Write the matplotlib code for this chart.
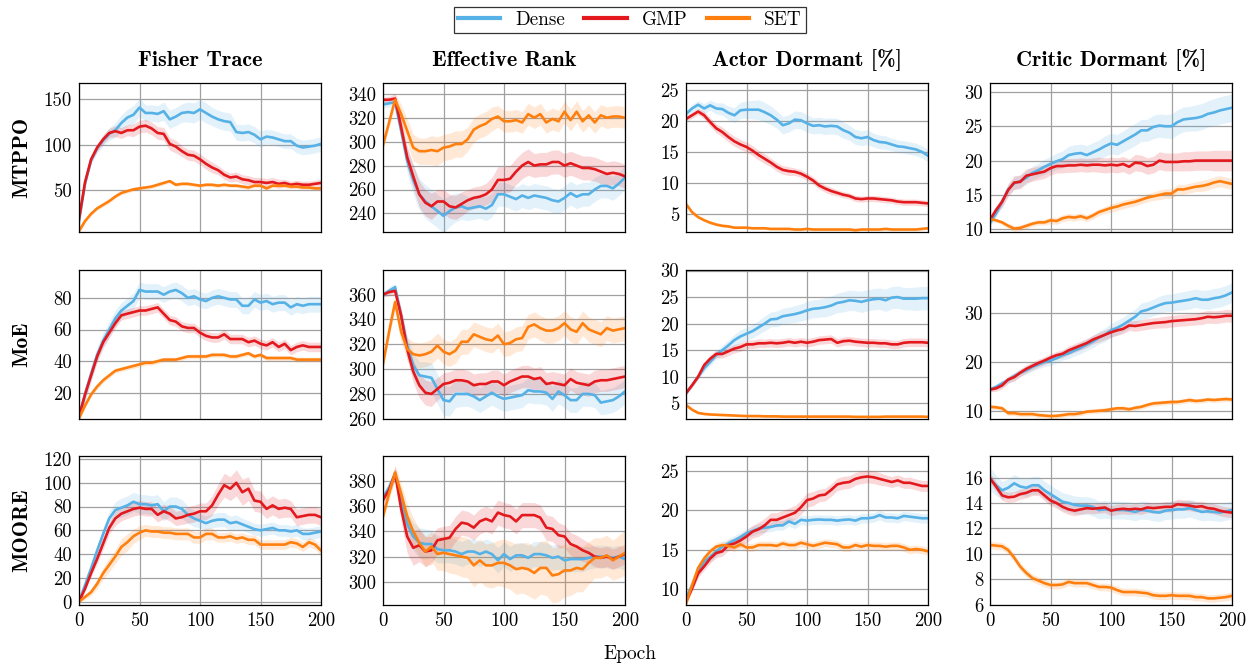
import numpy as np
import matplotlib
matplotlib.use("Agg")
import matplotlib.pyplot as plt
from matplotlib.lines import Line2D

plt.rcParams['font.family'] = ['cmr10', 'DejaVu Serif']

epochs = np.arange(0, 201, 5)
methods = ["Dense", "GMP", "SET"]
colors = ["#56B1E6", "#E3191E", "#FF7F0E"]
row_names = ["MTPPO", "MoE", "MOORE"]
col_names = ["Fisher Trace", "Effective Rank", "Actor Dormant [%]", "Critic Dormant [%]"]

# ---------------- MTPPO ----------------
fi_mtppo_dense = [16, 57, 83, 96, 105, 112, 116, 124, 130, 133, 141, 135, 135, 134, 137, 128, 131, 135, 136, 135,
                  139, 135, 131, 128, 126, 125, 114, 113, 114, 111, 106, 109, 108, 106, 104, 104, 99, 97, 98, 99, 101]
fi_mtppo_gmp = [18, 59, 84, 97, 106, 113, 115, 113, 116, 116, 120, 121, 118, 113, 112, 101, 98, 93, 89, 88,
                84, 79, 75, 72, 67, 64, 65, 62, 61, 59, 59, 58, 59, 57, 58, 56, 57, 56, 56, 57, 58]
fi_mtppo_set = [5, 16, 24, 30, 34, 38, 43, 47, 49, 51, 52, 53, 54, 56, 58, 60, 56, 57, 57, 56,
                55, 56, 56, 55, 56, 55, 55, 54, 53, 55, 55, 52, 55, 55, 55, 54, 54, 53, 53, 52, 52]
fi_mtppo_dense_sd = [1, 3, 4, 5, 6, 7, 8, 9, 9, 10, 10, 9, 9, 9, 10, 10, 10, 10, 11, 11,
                     11, 11, 10, 10, 10, 10, 9, 9, 9, 9, 9, 8, 8, 8, 8, 8, 8, 8, 8, 8, 8]
fi_mtppo_gmp_sd = [1, 3, 4, 4, 5, 5, 6, 6, 6, 7, 7, 7, 7, 7, 7, 7, 7, 6, 6, 6,
                   6, 6, 6, 5, 5, 5, 5, 5, 5, 5, 5, 5, 5, 5, 4, 4, 4, 4, 4, 4, 4]
fi_mtppo_set_sd = 2

er_mtppo_dense = [331, 332, 333, 309, 284, 268, 256, 250, 246, 242, 238, 242, 245, 246, 244, 245, 246, 244, 247, 256,
                  256, 254, 252, 255, 253, 255, 254, 253, 251, 250, 253, 257, 254, 256, 256, 260, 263, 263, 261, 265, 270]
er_mtppo_gmp = [335, 335, 336, 312, 287, 271, 256, 249, 246, 250, 250, 246, 245, 248, 251, 253, 254, 256, 260, 268,
                268, 269, 275, 280, 283, 280, 281, 281, 283, 283, 280, 282, 280, 278, 278, 277, 275, 273, 274, 273, 271]
er_mtppo_set = [297, 316, 335, 323, 309, 295, 292, 292, 293, 292, 295, 296, 298, 298, 302, 310, 313, 315, 319, 321,
                317, 317, 318, 316, 323, 320, 323, 316, 319, 317, 325, 318, 325, 317, 322, 316, 322, 320, 321, 321, 320]
er_mtppo_dense_sd = [3, 3, 4, 8, 10, 12, 13, 14, 14, 14, 14, 13, 12, 11, 10, 10, 10, 10, 10, 10,
                     10, 10, 10, 10, 10, 10, 10, 10, 10, 10, 10, 10, 10, 10, 10, 10, 10, 10, 10, 10, 10]
er_mtppo_gmp_sd = [2, 3, 4, 7, 9, 10, 11, 11, 11, 10, 10, 10, 10, 10, 9, 9, 9, 9, 10, 11,
                   11, 11, 11, 11, 11, 10, 10, 10, 10, 10, 10, 10, 10, 10, 10, 10, 10, 10, 10, 10, 10]
er_mtppo_set_sd = [3, 4, 5, 8, 10, 11, 11, 11, 12, 12, 11, 11, 11, 11, 10, 10, 10, 10, 10, 9,
                   9, 9, 9, 9, 9, 9, 9, 9, 9, 9, 9, 9, 9, 9, 9, 9, 9, 9, 9, 9, 9]

ad_mtppo_dense = [21.1, 22.0, 22.6, 22.0, 22.5, 22.0, 21.9, 21.3, 20.9, 21.7, 21.8, 21.8, 21.8, 21.4, 20.9, 20.2, 19.3,
                  19.6, 20.2, 20.1, 19.6, 19.2, 19.3, 19.1, 19.2, 19.1, 18.5, 18.1, 17.4, 17.2, 17.4, 16.9, 16.6, 16.5,
                  16.2, 15.9, 15.8, 15.6, 15.4, 15.0, 14.4]
ad_mtppo_gmp = [20.3, 20.9, 21.5, 20.9, 19.8, 18.8, 18.2, 17.4, 16.7, 16.2, 15.8, 15.2, 14.5, 13.9, 13.3, 12.6, 12.1,
                11.9, 11.8, 11.5, 11.0, 10.4, 9.6, 9.1, 8.7, 8.4, 8.1, 7.9, 7.5, 7.4, 7.5, 7.5, 7.4, 7.3, 7.2, 7.0,
                6.9, 6.9, 6.9, 6.8, 6.7]
ad_mtppo_set = [6.6, 5.3, 4.5, 4.0, 3.6, 3.3, 3.1, 3.0, 2.8, 2.8, 2.8, 2.7, 2.7, 2.7, 2.6, 2.6, 2.6, 2.6, 2.5, 2.5,
                2.6, 2.5, 2.5, 2.5, 2.5, 2.5, 2.5, 2.5, 2.4, 2.5, 2.5, 2.5, 2.5, 2.6, 2.5, 2.5, 2.5, 2.5, 2.5, 2.6, 2.7]
ad_mtppo_dense_sd = [0.5, 0.6, 0.7, 0.8, 0.8, 0.9, 1.0, 1.1, 1.2, 1.3, 1.4, 1.5, 1.6, 1.6, 1.5, 1.4, 1.4, 1.4, 1.4,
                     1.4, 1.4, 1.3, 1.3, 1.3, 1.3, 1.3, 1.3, 1.2, 1.2, 1.2, 1.2, 1.1, 1.1, 1.1, 1.0, 1.0, 1.0, 1.0,
                     1.0, 1.0, 1.0]
ad_mtppo_gmp_sd = [0.4, 0.5, 0.5, 0.6, 0.7, 0.7, 0.8, 0.8, 0.8, 0.8, 0.8, 0.8, 0.8, 0.8, 0.7, 0.7, 0.7, 0.7, 0.6,
                   0.6, 0.6, 0.6, 0.6, 0.6, 0.6, 0.5, 0.5, 0.5, 0.5, 0.5, 0.5, 0.5, 0.5, 0.5, 0.5, 0.5, 0.5, 0.5,
                   0.5, 0.5, 0.5]
ad_mtppo_set_sd = 0.2

cd_mtppo_dense = [10.9, 12.3, 14.0, 15.8, 16.7, 17.0, 17.5, 18.2, 18.6, 19.1, 19.5, 19.9, 20.2, 20.8, 21.0, 21.1, 20.8,
                  21.2, 21.6, 22.1, 22.5, 22.3, 22.8, 23.3, 23.8, 24.4, 24.4, 24.9, 25.1, 25.0, 25.0, 25.6, 26.0,
                  26.1, 26.2, 26.4, 26.8, 27.0, 27.3, 27.5, 27.7]
cd_mtppo_gmp = [11.4, 12.8, 14.0, 15.7, 16.8, 16.9, 17.8, 18.0, 18.2, 18.4, 18.9, 19.2, 19.2, 19.3, 19.3, 19.4, 19.3,
                19.4, 19.4, 19.3, 19.4, 19.3, 19.5, 19.1, 19.7, 19.6, 19.2, 19.4, 20.0, 19.8, 19.8, 19.8, 19.9, 19.9,
                20.0, 20.0, 20.0, 20.0, 20.0, 20.0, 20.0]
cd_mtppo_set = [11.5, 11.3, 11.0, 10.5, 10.1, 10.2, 10.5, 10.8, 11.0, 11.0, 11.3, 11.2, 11.6, 11.8, 11.7, 11.9, 11.6,
                12.0, 12.5, 12.8, 13.1, 13.3, 13.6, 13.8, 14.0, 14.3, 14.6, 14.8, 15.0, 15.2, 15.2, 15.8, 15.8, 16.0,
                16.2, 16.3, 16.5, 16.8, 17.0, 16.8, 16.6]
cd_mtppo_dense_sd = [0.5, 0.6, 0.7, 0.8, 0.9, 0.9, 1.0, 1.0, 1.0, 1.1, 1.1, 1.2, 1.2, 1.3, 1.3, 1.3, 1.4, 1.4, 1.4,
                     1.5, 1.5, 1.5, 1.5, 1.6, 1.6, 1.6, 1.6, 1.7, 1.7, 1.7, 1.8, 1.8, 1.8, 1.8, 1.9, 1.9, 1.9, 2.0,
                     2.0, 2.0, 2.0]
cd_mtppo_gmp_sd = [0.4, 0.6, 0.8, 0.9, 1.0, 1.0, 1.0, 1.0, 1.0, 1.0, 1.0, 1.0, 1.0, 1.0, 1.0, 1.0, 1.0, 1.0, 1.1,
                   1.1, 1.1, 1.1, 1.1, 1.1, 1.2, 1.2, 1.2, 1.2, 1.3, 1.3, 1.3, 1.3, 1.4, 1.4, 1.4, 1.4, 1.4, 1.5,
                   1.5, 1.5, 1.5]
cd_mtppo_set_sd = [0.3, 0.3, 0.3, 0.4, 0.4, 0.4, 0.4, 0.4, 0.4, 0.4, 0.5, 0.5, 0.5, 0.5, 0.5, 0.5, 0.5, 0.5, 0.5,
                   0.5, 0.6, 0.6, 0.6, 0.6, 0.6, 0.6, 0.6, 0.6, 0.7, 0.7, 0.7, 0.7, 0.7, 0.7, 0.7, 0.8, 0.8, 0.8,
                   0.8, 0.8, 0.8]

# ---------------- MoE ----------------
fi_moe_dense = [5, 19, 32, 44, 53, 60, 67, 72, 75, 78, 85, 84, 84, 84, 82, 84, 85, 83, 80, 81,
                79, 78, 80, 81, 80, 79, 79, 75, 75, 79, 77, 78, 76, 77, 77, 74, 76, 75, 76, 76, 76]
fi_moe_gmp = [5, 19, 31, 43, 52, 58, 64, 69, 70, 71, 72, 72, 73, 74, 70, 66, 65, 62, 61, 61,
              58, 56, 55, 55, 57, 54, 54, 54, 52, 53, 51, 50, 52, 49, 51, 47, 49, 50, 49, 49, 49]
fi_moe_set = [4, 12, 19, 24, 28, 31, 34, 35, 36, 37, 38, 39, 39, 40, 41, 41, 41, 42, 43, 43,
              43, 43, 44, 44, 44, 43, 43, 44, 45, 43, 44, 42, 42, 42, 42, 42, 41, 41, 41, 41, 41]
fi_moe_dense_sd = 5
fi_moe_gmp_sd = 3
fi_moe_set_sd = 1.5

er_moe_dense = [360, 363, 366, 343, 319, 303, 295, 294, 293, 284, 275, 274, 280, 280, 280, 278, 275, 278, 281, 278,
                276, 277, 278, 279, 283, 282, 282, 281, 276, 282, 279, 275, 275, 280, 280, 279, 273, 274, 275, 278, 282]
er_moe_gmp = [360, 362, 363, 343, 316, 298, 287, 281, 280, 284, 288, 289, 291, 291, 290, 287, 288, 288, 290, 290,
              287, 290, 292, 294, 294, 292, 293, 288, 289, 288, 287, 292, 289, 288, 287, 290, 291, 291, 292, 293, 294]
er_moe_set = [304, 330, 354, 330, 316, 312, 311, 312, 314, 319, 314, 312, 315, 322, 322, 328, 326, 324, 323, 327,
              320, 321, 324, 325, 334, 336, 333, 331, 331, 333, 337, 332, 330, 337, 332, 330, 328, 333, 331, 332, 333]
er_moe_dense_sd = [2, 3, 3, 6, 8, 10, 11, 12, 12, 12, 12, 12, 11, 10, 10, 10, 10, 10, 10, 10,
                   10, 10, 10, 10, 10, 10, 10, 10, 10, 10, 10, 10, 10, 10, 10, 10, 10, 10, 10, 10, 10]
er_moe_gmp_sd = [2, 3, 3, 6, 8, 9, 10, 10, 10, 9, 9, 9, 9, 9, 9, 9, 9, 9, 9, 9,
                 9, 9, 9, 9, 9, 9, 9, 9, 9, 9, 9, 9, 9, 9, 9, 9, 9, 9, 9, 9, 9]
er_moe_set_sd = [2, 5, 6, 8, 9, 10, 10, 10, 10, 10, 10, 10, 10, 10, 10, 10, 10, 10, 10, 10,
                 10, 10, 10, 10, 10, 10, 10, 10, 10, 10, 10, 10, 10, 10, 10, 10, 10, 10, 10, 10, 10]

ad_moe_dense = [6.9, 8.4, 10.0, 11.6, 12.8, 14.1, 15.0, 15.9, 16.9, 17.6, 18.1, 18.6, 19.3, 20.0, 20.8, 20.9, 21.4,
                21.6, 21.8, 22.1, 22.5, 22.8, 22.9, 23.1, 23.4, 23.9, 24.1, 24.4, 24.3, 24.1, 24.4, 24.6, 24.7, 24.4,
                24.9, 25.0, 24.7, 24.7, 24.7, 24.8, 24.8]
ad_moe_gmp = [6.9, 8.4, 10.0, 12.2, 13.4, 14.3, 14.3, 14.8, 15.3, 15.6, 16.1, 16.1, 16.3, 16.3, 16.4, 16.3, 16.4,
              16.6, 16.4, 16.6, 16.4, 16.6, 16.9, 17.0, 17.1, 16.4, 16.7, 16.8, 16.6, 16.5, 16.4, 16.4, 16.3, 16.3,
              16.1, 16.1, 16.4, 16.5, 16.5, 16.5, 16.4]
ad_moe_set = [4.7, 3.8, 3.2, 3.0, 2.9, 2.85, 2.8, 2.75, 2.7, 2.65, 2.6, 2.6, 2.6, 2.55, 2.55, 2.55, 2.5, 2.5, 2.5,
              2.5, 2.5, 2.5, 2.5, 2.5, 2.5, 2.5, 2.5, 2.5, 2.45, 2.45, 2.45, 2.45, 2.45, 2.5, 2.5, 2.5, 2.5, 2.5,
              2.5, 2.5, 2.45]
ad_moe_dense_sd = [0.3, 0.4, 0.5, 0.6, 0.7, 0.8, 0.9, 1.0, 1.1, 1.2, 1.2, 1.3, 1.3, 1.4, 1.4, 1.5, 1.5, 1.5, 1.6,
                   1.6, 1.7, 1.7, 1.7, 1.8, 1.8, 1.8, 1.9, 1.9, 1.9, 2.0, 2.0, 2.0, 2.0, 2.1, 2.1, 2.1, 2.1, 2.1,
                   2.2, 2.2, 2.2]
ad_moe_gmp_sd = [0.3, 0.4, 0.5, 0.6, 0.7, 0.7, 0.8, 0.8, 0.8, 0.8, 0.8, 0.8, 0.8, 0.8, 0.8, 0.8, 0.8, 0.8, 0.8,
                 0.8, 0.8, 0.8, 0.8, 0.8, 0.8, 0.8, 0.8, 0.8, 0.8, 0.8, 0.8, 0.8, 0.8, 0.8, 0.8, 0.8, 0.8, 0.8,
                 0.8, 0.8, 0.8]
ad_moe_set_sd = 0.15

cd_moe_dense = [14.35, 14.9, 15.6, 16.3, 17.1, 17.8, 18.3, 19.0, 19.5, 20.0, 20.3, 20.8, 21.4, 21.8, 22.4, 22.9,
                23.6, 24.2, 25.0, 25.6, 26.5, 27.0, 27.7, 28.5, 29.3, 30.4, 30.7, 31.2, 31.7, 32.1, 32.2, 32.4,
                32.6, 32.8, 33.1, 32.8, 32.8, 33.1, 33.3, 33.7, 34.3]
cd_moe_gmp = [14.35, 14.6, 15.2, 16.4, 16.9, 17.8, 18.6, 19.2, 19.8, 20.3, 20.9, 21.4, 21.7, 22.4, 22.9, 23.4, 23.9,
              24.6, 25.1, 25.6, 26.1, 26.5, 26.8, 27.5, 27.4, 27.6, 27.8, 28.0, 28.1, 28.2, 28.4, 28.5, 28.6, 28.7,
              28.8, 29.0, 29.3, 29.2, 29.3, 29.5, 29.5]
cd_moe_set = [10.8, 10.7, 10.5, 9.5, 9.5, 9.3, 9.3, 9.3, 9.1, 9.0, 8.9, 8.95, 9.1, 9.3, 9.3, 9.5, 9.8, 9.9, 10.0,
              10.1, 10.3, 10.5, 10.5, 10.3, 10.6, 10.8, 11.2, 11.5, 11.6, 11.7, 11.8, 11.8, 12.0, 12.2, 12.0, 12.1,
              12.3, 12.2, 12.3, 12.4, 12.3]
cd_moe_dense_sd = [0.5, 0.6, 0.7, 0.7, 0.8, 0.8, 0.8, 0.9, 0.9, 0.9, 1.0, 1.0, 1.0, 1.1, 1.1, 1.2, 1.2, 1.3, 1.3,
                   1.4, 1.4, 1.5, 1.5, 1.6, 1.6, 1.7, 1.7, 1.7, 1.8, 1.8, 1.8, 1.8, 1.9, 1.9, 1.9, 1.9, 2.0, 2.0,
                   2.0, 2.0, 2.0]
cd_moe_gmp_sd = [0.5, 0.6, 0.7, 0.7, 0.8, 0.8, 0.8, 0.8, 0.8, 0.8, 0.8, 0.8, 0.8, 0.9, 0.9, 0.9, 0.9, 0.9, 1.0,
                 1.0, 1.0, 1.0, 1.0, 1.0, 1.1, 1.1, 1.1, 1.1, 1.1, 1.2, 1.2, 1.2, 1.2, 1.2, 1.2, 1.3, 1.3, 1.3,
                 1.3, 1.3, 1.3]
cd_moe_set_sd = 0.5

# ---------------- MOORE ----------------
fi_moore_dense = [0, 14, 28, 43, 57, 70, 77, 79, 81, 84, 82, 82, 81, 82, 76, 80, 80, 78, 73, 70,
                  68, 66, 68, 69, 69, 66, 67, 65, 63, 61, 60, 61, 62, 60, 60, 59, 60, 57, 57, 58, 59]
fi_moore_gmp = [0, 11, 24, 36, 49, 62, 70, 74, 76, 78, 79, 78, 78, 73, 76, 74, 70, 71, 73, 74,
                76, 76, 81, 90, 98, 95, 100, 92, 95, 85, 84, 78, 81, 78, 79, 78, 71, 72, 73, 73, 71]
fi_moore_set = [0, 4, 8, 15, 24, 31, 38, 46, 50, 55, 58, 60, 59, 59, 58, 58, 57, 57, 57, 54,
                54, 57, 57, 54, 54, 55, 53, 54, 52, 52, 48, 48, 48, 48, 48, 50, 49, 46, 50, 48, 43]
fi_moore_dense_sd = [0.5, 2, 3, 4, 5, 6, 7, 8, 8, 8, 8, 8, 8, 8, 8, 8, 8, 8, 7, 7,
                     6, 6, 6, 6, 6, 6, 6, 5, 5, 5, 5, 5, 5, 5, 5, 5, 5, 5, 5, 5, 5]
fi_moore_gmp_sd = [0.5, 2, 3, 4, 5, 5, 6, 6, 6, 6, 6, 6, 6, 6, 6, 6, 6, 6, 7, 7,
                   7, 7, 8, 9, 10, 10, 11, 11, 10, 9, 9, 8, 8, 8, 8, 7, 7, 7, 7, 7, 7]
fi_moore_set_sd = [0.5, 2, 3, 4, 5, 6, 6, 7, 7, 6, 6, 5, 5, 5, 5, 5, 5, 5, 5, 5,
                   5, 5, 5, 4, 4, 4, 4, 4, 4, 4, 4, 4, 4, 4, 4, 4, 4, 4, 4, 4, 4]

er_moore_dense = [367, 375, 386, 365, 346, 336, 331, 330, 330, 326, 325, 325, 324, 322, 324, 324, 322, 324, 322, 317,
                  322, 318, 321, 321, 319, 322, 322, 321, 319, 320, 317, 318, 318, 318, 319, 320, 320, 320, 319, 320, 318]
er_moore_gmp = [365, 373, 386, 358, 336, 327, 329, 324, 325, 333, 334, 335, 342, 347, 346, 343, 348, 350, 348, 355,
                353, 352, 348, 353, 353, 353, 351, 343, 342, 337, 336, 330, 328, 325, 323, 320, 319, 320, 318, 320, 322]
er_moore_set = [352, 370, 387, 370, 352, 340, 331, 324, 328, 322, 323, 322, 321, 320, 319, 313, 317, 313, 313, 315,
                315, 313, 310, 311, 310, 307, 311, 311, 305, 306, 309, 309, 311, 310, 315, 319, 319, 321, 317, 320, 323]
er_moore_dense_sd = [3, 4, 5, 8, 10, 11, 12, 12, 11, 11, 10, 10, 10, 10, 10, 10, 10, 10, 10, 10,
                     10, 10, 10, 10, 10, 10, 10, 10, 10, 10, 10, 10, 10, 10, 9, 9, 9, 9, 9, 9, 9]
er_moore_gmp_sd = [3, 4, 5, 10, 13, 14, 13, 12, 11, 10, 10, 10, 10, 10, 10, 10, 10, 10, 10, 10,
                   10, 10, 10, 10, 10, 10, 10, 10, 10, 10, 9, 9, 9, 9, 8, 8, 8, 8, 8, 8, 8]
er_moore_set_sd = [3, 5, 6, 8, 10, 11, 11, 12, 12, 13, 14, 15, 15, 16, 16, 17, 17, 17, 18, 18,
                   19, 19, 20, 20, 21, 21, 21, 22, 22, 22, 21, 20, 19, 18, 17, 16, 16, 16, 16, 17, 18]

ad_moore_dense = [8.9, 10.5, 12.2, 13.5, 14.1, 14.8, 15.4, 15.8, 16.2, 16.6, 17.1, 17.4, 17.7, 17.8, 17.9, 18.1, 18.1,
                  18.6, 18.3, 18.8, 18.7, 18.8, 18.85, 18.8, 18.8, 18.7, 18.8, 18.85, 18.7, 19.0, 19.0, 19.1, 19.4,
                  19.1, 19.1, 19.0, 19.3, 19.2, 19.1, 19.0, 19.0]
ad_moore_gmp = [8.4, 10.1, 12.0, 12.9, 13.9, 14.6, 14.8, 15.6, 15.8, 16.2, 16.7, 17.3, 17.6, 18.1, 18.8, 18.8, 19.1,
                19.4, 19.7, 20.4, 21.3, 21.5, 21.9, 22.0, 22.6, 23.3, 23.5, 23.6, 24.0, 24.2, 24.3, 24.2, 24.0, 23.8,
                23.6, 23.8, 23.5, 23.5, 23.3, 23.1, 23.1]
ad_moore_set = [8.2, 10.5, 12.7, 13.9, 14.8, 15.4, 15.6, 15.5, 15.3, 15.7, 15.3, 15.3, 15.6, 15.6, 15.6, 15.5, 15.8,
                15.6, 15.6, 15.9, 15.7, 15.5, 15.7, 15.9, 15.8, 15.7, 15.3, 15.3, 15.6, 15.4, 15.6, 15.5, 15.5, 15.4,
                15.5, 15.5, 15.3, 15.0, 15.1, 15.0, 14.8]
ad_moore_dense_sd = 0.6
ad_moore_gmp_sd = [0.3, 0.4, 0.5, 0.5, 0.6, 0.6, 0.6, 0.7, 0.7, 0.8, 0.8, 0.8, 0.9, 0.9, 0.9, 0.9, 0.9, 0.9, 0.9,
                   0.9, 0.9, 0.9, 0.8, 0.8, 0.8, 0.8, 0.8, 0.8, 0.8, 0.8, 0.8, 0.8, 0.8, 0.7, 0.7, 0.7, 0.7, 0.7,
                   0.7, 0.7, 0.7]
ad_moore_set_sd = 0.5

cd_moore_dense = [15.9, 15.4, 15.0, 15.2, 15.55, 15.3, 15.2, 15.4, 15.4, 15.0, 14.7, 14.4, 14.1, 14.0, 13.85, 13.8,
                  13.8, 13.7, 13.45, 13.5, 13.45, 13.45, 13.45, 13.4, 13.3, 13.45, 13.4, 13.3, 13.25, 13.4, 13.45,
                  13.5, 13.5, 13.6, 13.45, 13.3, 13.35, 13.3, 13.25, 13.35, 13.45]
cd_moore_gmp = [15.95, 15.3, 14.6, 14.45, 14.5, 14.7, 14.8, 15.0, 15.0, 14.6, 14.2, 14.0, 13.7, 13.5, 13.4, 13.5,
                13.6, 13.55, 13.6, 13.65, 13.4, 13.5, 13.55, 13.5, 13.55, 13.5, 13.65, 13.6, 13.65, 13.7, 13.7, 13.9,
                13.85, 13.8, 13.7, 13.75, 13.6, 13.55, 13.4, 13.3, 13.25]
cd_moore_set = [10.7, 10.65, 10.6, 10.3, 9.7, 9.0, 8.5, 8.1, 7.9, 7.7, 7.55, 7.55, 7.6, 7.8, 7.7, 7.7, 7.7, 7.55,
                7.4, 7.4, 7.35, 7.15, 7.0, 7.0, 7.0, 6.95, 6.9, 6.75, 6.7, 6.7, 6.75, 6.7, 6.7, 6.7, 6.6, 6.6, 6.5,
                6.5, 6.55, 6.6, 6.7]
cd_moore_dense_sd = [0.9, 0.8, 0.7, 0.7, 0.7, 0.7, 0.7, 0.7, 0.7, 0.7, 0.7, 0.7, 0.7, 0.7, 0.7, 0.7, 0.7, 0.7, 0.7,
                     0.7, 0.7, 0.7, 0.7, 0.7, 0.7, 0.7, 0.7, 0.7, 0.7, 0.7, 0.7, 0.7, 0.7, 0.7, 0.7, 0.7, 0.7, 0.7,
                     0.7, 0.7, 0.7]
cd_moore_gmp_sd = 0.4
cd_moore_set_sd = 0.3

# y axis settings per panel (row, col): limits and ticks
ylims = [[(4, 168), (224.5, 349), (2.1, 26.1), (9.6, 31.3)],
         [(3.5, 97.6), (259.8, 379.8), (2.05, 30.1), (8.3, 38.9)],
         [(-2.8, 122.5), (281.5, 400), (8.0, 26.9), (5.98, 17.7)]]
yticks = [[[50, 100, 150], [240, 260, 280, 300, 320, 340], [5, 10, 15, 20, 25], [10, 15, 20, 25, 30]],
          [[20, 40, 60, 80], [260, 280, 300, 320, 340, 360], [5, 10, 15, 20, 25, 30], [10, 20, 30]],
          [[0, 20, 40, 60, 80, 100, 120], [300, 320, 340, 360, 380], [10, 15, 20, 25], [6, 8, 10, 12, 14, 16]]]

panels = [
    [[(fi_mtppo_dense, fi_mtppo_dense_sd), (fi_mtppo_gmp, fi_mtppo_gmp_sd), (fi_mtppo_set, fi_mtppo_set_sd)],
     [(er_mtppo_dense, er_mtppo_dense_sd), (er_mtppo_gmp, er_mtppo_gmp_sd), (er_mtppo_set, er_mtppo_set_sd)],
     [(ad_mtppo_dense, ad_mtppo_dense_sd), (ad_mtppo_gmp, ad_mtppo_gmp_sd), (ad_mtppo_set, ad_mtppo_set_sd)],
     [(cd_mtppo_dense, cd_mtppo_dense_sd), (cd_mtppo_gmp, cd_mtppo_gmp_sd), (cd_mtppo_set, cd_mtppo_set_sd)]],
    [[(fi_moe_dense, fi_moe_dense_sd), (fi_moe_gmp, fi_moe_gmp_sd), (fi_moe_set, fi_moe_set_sd)],
     [(er_moe_dense, er_moe_dense_sd), (er_moe_gmp, er_moe_gmp_sd), (er_moe_set, er_moe_set_sd)],
     [(ad_moe_dense, ad_moe_dense_sd), (ad_moe_gmp, ad_moe_gmp_sd), (ad_moe_set, ad_moe_set_sd)],
     [(cd_moe_dense, cd_moe_dense_sd), (cd_moe_gmp, cd_moe_gmp_sd), (cd_moe_set, cd_moe_set_sd)]],
    [[(fi_moore_dense, fi_moore_dense_sd), (fi_moore_gmp, fi_moore_gmp_sd), (fi_moore_set, fi_moore_set_sd)],
     [(er_moore_dense, er_moore_dense_sd), (er_moore_gmp, er_moore_gmp_sd), (er_moore_set, er_moore_set_sd)],
     [(ad_moore_dense, ad_moore_dense_sd), (ad_moore_gmp, ad_moore_gmp_sd), (ad_moore_set, ad_moore_set_sd)],
     [(cd_moore_dense, cd_moore_dense_sd), (cd_moore_gmp, cd_moore_gmp_sd), (cd_moore_set, cd_moore_set_sd)]],
]

W, H = 1249, 664
fig = plt.figure(figsize=(W / 100, H / 100), dpi=100)

col_left = [79, 383, 686, 990]
row_top = [83, 270, 456]
ax_w, ax_h = 242, 149
bold = ['cmb10', 'DejaVu Serif']

for r in range(3):
    for c in range(4):
        ax = fig.add_axes([col_left[c] / W, 1 - (row_top[r] + ax_h) / H, ax_w / W, ax_h / H])
        for (mean, sd), col in zip(panels[r][c], colors):
            m = np.array(mean, dtype=float)
            s = np.array(sd, dtype=float)
            ax.fill_between(epochs, m - s, m + s, color=col, alpha=0.17, linewidth=0)
        for (mean, sd), col in zip(panels[r][c], colors):
            ax.plot(epochs, mean, color=col, linewidth=1.9)
        ax.set_xlim(0, 200)
        ax.set_ylim(*ylims[r][c])
        ax.set_xticks([0, 50, 100, 150, 200])
        ax.set_yticks(yticks[r][c])
        ax.set_yticklabels([str(t) for t in yticks[r][c]])
        if r == 2:
            ax.set_xticklabels(["0", "50", "100", "150", "200"])
        else:
            ax.set_xticklabels([])
        ax.grid(True, color="#a0a0a0", linewidth=0.9)
        ax.set_axisbelow(True)
        ax.tick_params(length=0, labelsize=13.5, pad=5)
        for sp in ax.spines.values():
            sp.set_linewidth(0.9)
            sp.set_color("black")
        if r == 0:
            fig.text((col_left[c] + ax_w / 2) / W, 1 - 60 / H, col_names[c], ha="center", va="center",
                     fontfamily=bold, fontsize=16)

for r in range(3):
    yc = 1 - (row_top[r] + ax_h / 2) / H
    fig.text(22 / W, yc, row_names[r], rotation=90, ha="center", va="center",
             fontfamily=bold, fontsize=15.5)

fig.text(630 / W, 1 - 654 / H, "Epoch", ha="center", va="center", fontsize=14)

handles = [Line2D([0], [0], color=col, linewidth=3) for col in colors]
leg = fig.legend(handles, methods, loc="center", bbox_to_anchor=(630 / W, 1 - 20 / H), ncol=3,
                 frameon=True, fancybox=False, fontsize=13.8, handlelength=2.2, columnspacing=1.0,
                 borderpad=0.2, handletextpad=0.8)
leg.get_frame().set_edgecolor("black")
leg.get_frame().set_linewidth(0.9)

fig.savefig("out.png", dpi=100)
